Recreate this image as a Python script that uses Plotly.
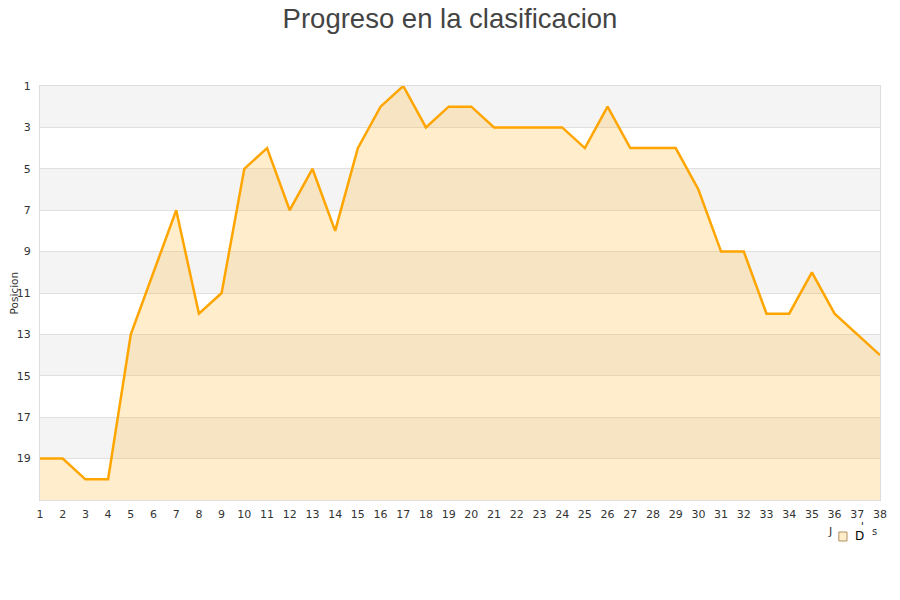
import plotly.graph_objects as go

jornadas = list(range(1, 39))
posiciones = [19, 19, 20, 20, 13, 10, 7, 12, 11, 5, 4, 7, 5, 8, 4, 2, 1, 3, 2, 2,
              3, 3, 3, 3, 4, 2, 4, 4, 4, 6, 9, 9, 12, 12, 10, 12, 13, 14]
y_ticks = list(range(1, 20, 2))
x_ticks = jornadas

fig = go.Figure()

# baseline for fill
fig.add_trace(go.Scatter(x=jornadas, y=[21] * len(jornadas), mode="lines",
                         line=dict(width=0), hoverinfo="skip", showlegend=False))
fig.add_trace(go.Scatter(x=jornadas, y=posiciones, mode="lines",
                         line=dict(color="#ffa500", width=2.5),
                         fill="tonexty", fillcolor="rgba(255,165,0,0.2)",
                         showlegend=False))

shapes = []
for i, lo in enumerate(range(1, 21, 2)):
    if i % 2 == 0:
        shapes.append(dict(type="rect", xref="paper", yref="y", x0=0, x1=1,
                           y0=lo, y1=lo + 2, fillcolor="#f4f4f4",
                           line=dict(width=0), layer="below"))
shapes.append(dict(type="rect", xref="paper", yref="paper", x0=0.951, x1=0.9607,
                   y0=-0.099, y1=-0.0773, fillcolor="#ffedcc",
                   line=dict(color="#b09060", width=1)))

ann_font = dict(size=11, color="#333")
fig.update_layout(
    width=892, height=592,
    paper_bgcolor="white", plot_bgcolor="white",
    margin=dict(l=32, r=20, t=78, b=100, autoexpand=False),
    title=dict(text="Progreso en la clasificacion", x=0.5 - 4 / 892, xanchor="center",
               y=0.9825, yanchor="middle", automargin=False,
               font=dict(family="Liberation Sans, Arial, sans-serif", size=27.5, color="#444")),
    font=dict(family="DejaVu Sans, sans-serif", size=11, color="#333"),
    shapes=shapes,
    xaxis=dict(range=[1, 38], tickmode="array", tickvals=x_ticks, automargin=False,
               showgrid=False, showline=True, linecolor="#ddd", linewidth=1,
               mirror=True, zeroline=False, ticks="", ticklabelstandoff=4,
               tickfont=dict(size=11, color="#333")),
    yaxis=dict(range=[21, 1], tickmode="array", tickvals=y_ticks, automargin=False,
               showgrid=True, gridcolor="#e0e0e0", gridwidth=1,
               showline=True, linecolor="#ddd", linewidth=1, mirror=True,
               zeroline=False, ticks="", ticklabelstandoff=6,
               tickfont=dict(size=11, color="#333")),
    annotations=[
        dict(text="Posicion", xref="paper", yref="paper", x=-0.0305, y=0.5,
             xanchor="center", yanchor="middle", textangle=-90, showarrow=False,
             font=dict(size=10.5, color="#333")),
        dict(text="J", xref="paper", yref="paper", x=0.9405, y=-0.0749,
             xanchor="center", yanchor="middle", showarrow=False, font=ann_font),
        dict(text="D", xref="paper", yref="paper", x=0.976, y=-0.087,
             xanchor="center", yanchor="middle", showarrow=False,
             font=dict(size=12, color="#000")),
        dict(text="'", xref="paper", yref="paper", x=0.9786, y=-0.063,
             xanchor="center", yanchor="middle", showarrow=False,
             font=dict(size=10, color="#000")),
        dict(text="s", xref="paper", yref="paper", x=0.994, y=-0.075,
             xanchor="center", yanchor="middle", showarrow=False,
             font=dict(size=10, color="#333")),
    ],
)

fig.write_html("out.html")
